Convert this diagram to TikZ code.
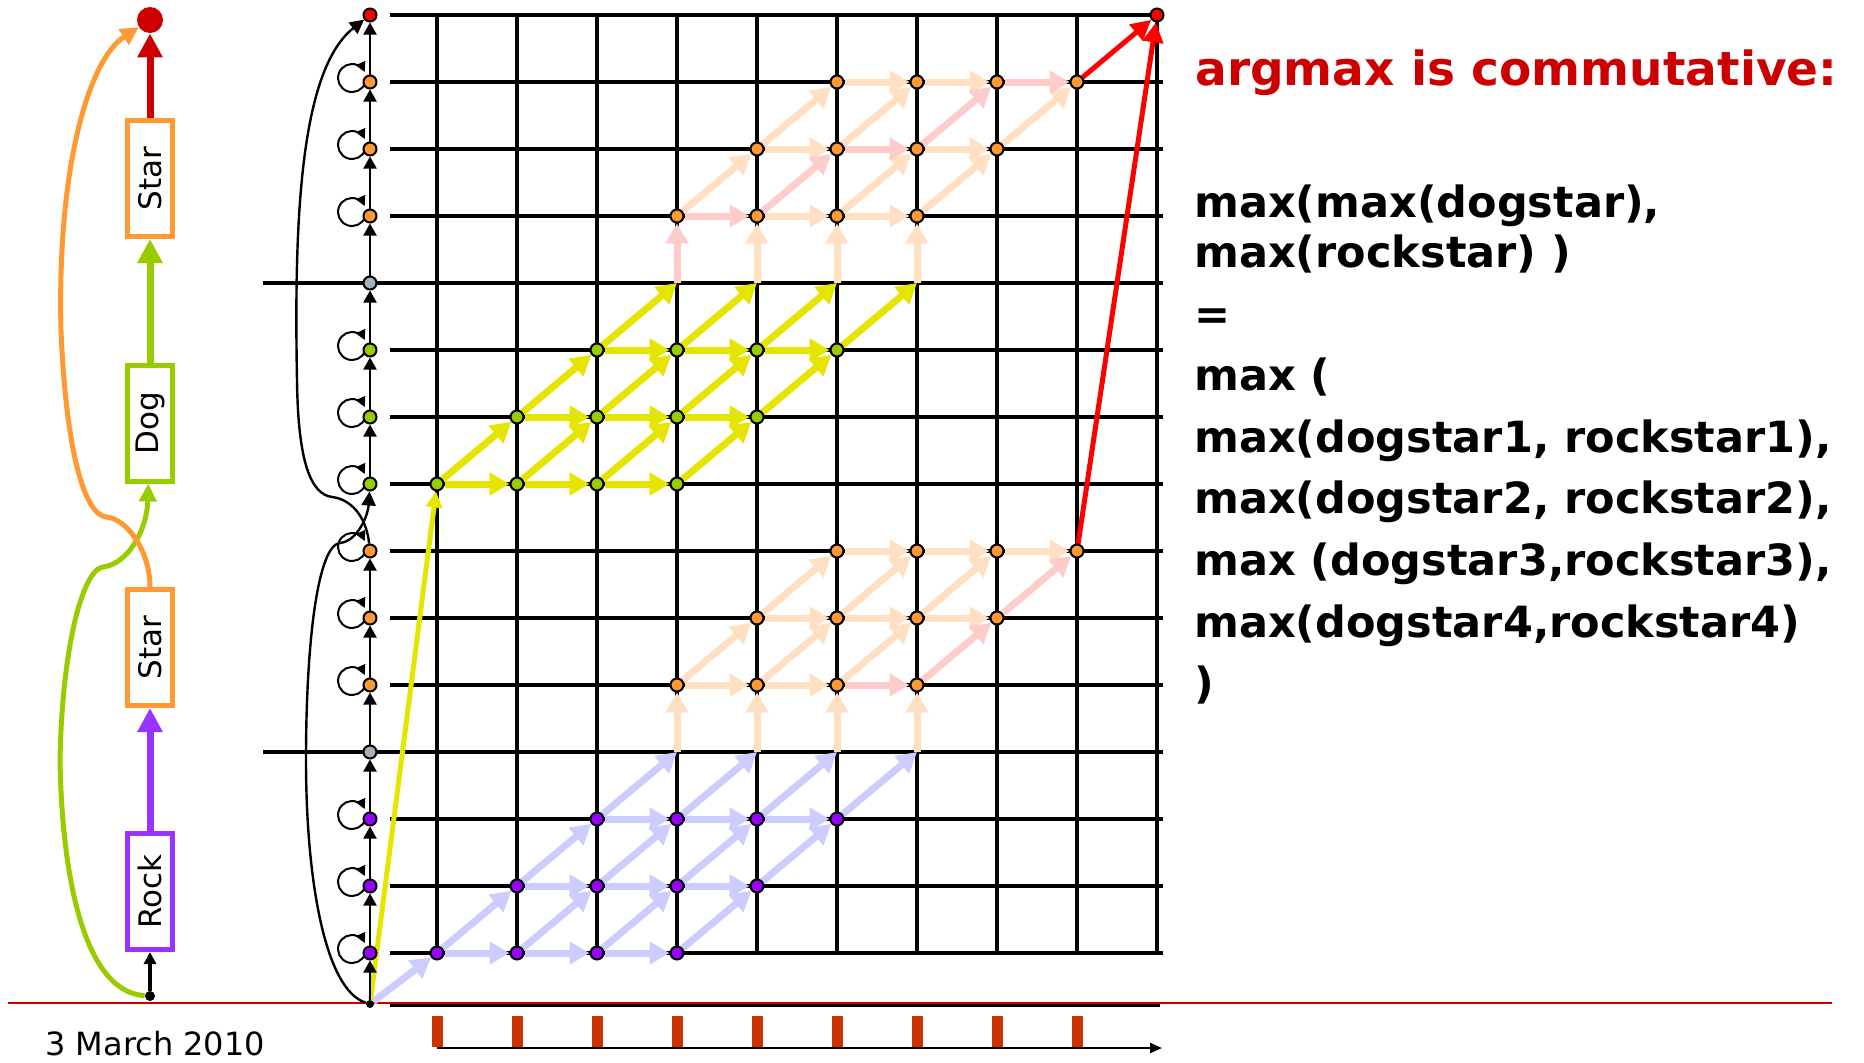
\documentclass[tikz,border=0pt]{standalone}
\usepackage{fontspec}
\setmainfont{DejaVu Sans}
\usetikzlibrary{arrows.meta}
\definecolor{purp}{HTML}{9900FF}
\definecolor{purpb}{HTML}{9933FF}
\definecolor{grn}{HTML}{99CC00}
\definecolor{org}{HTML}{FF9933}
\definecolor{gry}{HTML}{A3B1BF}
\definecolor{redn}{HTML}{FF0000}
\definecolor{dred}{HTML}{CC0000}
\definecolor{lblue}{HTML}{CCCCFF}
\definecolor{yel}{HTML}{E5E500}
\definecolor{peach}{HTML}{FFE0C2}
\definecolor{pinkc}{HTML}{FFCCCC}
\definecolor{tickc}{HTML}{CC3300}
\pgfdeclarelayer{gridlayer}
\pgfdeclarelayer{arrlayer}
\pgfsetlayers{gridlayer,arrlayer,main}
\tikzset{
  gline/.style={line width=1.6pt, draw=black},
  gnode/.style={circle, draw=black, line width=1pt, minimum size=6.5pt, inner sep=0pt},
  bigarr/.style={line width=3.5pt, -{Triangle[length=10pt,width=11pt]}},
  blarr/.style={bigarr, draw=lblue},
  yarr/.style={bigarr, draw=yel},
  pcarr/.style={bigarr, draw=peach},
  pkarr/.style={bigarr, draw=pinkc},
  ylong/.style={line width=2.5pt, draw=yel, -{Triangle[length=8pt,width=8pt]}},
  redarr/.style={line width=2.5pt, draw=redn, -{Triangle[length=10pt,width=10pt]}},
  colarr/.style={line width=1pt, -{Triangle[length=6pt,width=6.5pt]}},
  loopst/.style={line width=1pt, -{Triangle[length=5pt,width=5pt]}},
  arcst/.style={line width=1.2pt, -{Triangle[length=7pt,width=7pt]}},
  lbox/.style={draw, line width=2.5pt, fill=white, minimum width=22.5pt, minimum height=58pt, inner sep=0pt, font=\fontsize{15.5}{18}\selectfont},
  larr/.style={line width=3.5pt, -{Triangle[length=12pt,width=12pt]}},
  lbk/.style={line width=2.2pt, -{Triangle[length=6pt,width=6pt]}},
  body/.style={anchor=base west, inner sep=0pt, font=\bfseries\fontsize{21.5}{25}\selectfont},
}
\begin{document}
\begin{tikzpicture}[x=0.5pt,y=-0.5pt]
\useasboundingbox (0,0) rectangle (1864,1062);

% ---------- column nodes ----------
\foreach \j/\c in {1/purp,2/purp,3/purp,4/gry,5/org,6/org,7/org,8/grn,9/grn,10/grn,11/gry,12/org,13/org,14/org,15/redn}{
  \node[gnode, fill=\c] (c-\j) at (370,{1020-67*\j}) {};
}
\node[circle, fill=black, minimum size=4pt, inner sep=0pt] (c-0) at (370,1004) {};
\node[gnode, fill=redn] (fin) at (1157,15) {};

% ---------- grid nodes ----------
\foreach \k in {0,1,2}{
  \foreach \d in {0,1,2,3}{
    \pgfmathtruncatemacro\ia{1+\k+\d}
    \pgfmathtruncatemacro\ib{4+\k+\d}
    \pgfmathtruncatemacro\ja{1+\k}
    \pgfmathtruncatemacro\jb{8+\k}
    \pgfmathtruncatemacro\jc{5+\k}
    \pgfmathtruncatemacro\jd{12+\k}
    \node[gnode, fill=purp] (g-\ia-\ja) at ({357+80*\ia},{1020-67*\ja}) {};
    \node[gnode, fill=grn] (g-\ia-\jb) at ({357+80*\ia},{1020-67*\jb}) {};
    \node[gnode, fill=org] (g-\ib-\jc) at ({357+80*\ib},{1020-67*\jc}) {};
    \node[gnode, fill=org] (g-\ib-\jd) at ({357+80*\ib},{1020-67*\jd}) {};
  }
}
\foreach \i in {4,...,7}{
  \coordinate (x-\i-4) at ({357+80*\i},{1020-67*4});
  \coordinate (x-\i-11) at ({357+80*\i},{1020-67*11});
}

% ---------- grid lines ----------
\begin{pgfonlayer}{gridlayer}
\foreach \i in {1,...,10}{
  \draw[gline] ({357+80*\i},15) -- ({357+80*\i},953);
}
\foreach \j in {1,2,3,5,6,7,8,9,10,12,13,14}{
  \draw[gline] (390,{1020-67*\j}) -- (1163,{1020-67*\j});
}
\draw[gline] (390,15) -- (1157,15);
\draw[gline] (263,752) -- (1163,752);
\draw[gline] (263,283) -- (1163,283);
\draw[gline] (390,1005.5) -- (1160,1005.5);
\draw[line width=1pt, draw=dred] (8,1003) -- (1832,1003);
\end{pgfonlayer}

% ---------- arrows ----------
\begin{pgfonlayer}{arrlayer}
\foreach \b/\s in {1/blarr, 8/yarr}{
  \foreach \k in {0,1,2}{
    \foreach \d in {0,1,2}{
      \pgfmathtruncatemacro\ia{1+\k+\d}
      \pgfmathtruncatemacro\ib{2+\k+\d}
      \pgfmathtruncatemacro\jj{\b+\k}
      \draw[\s] (g-\ia-\jj) -- (g-\ib-\jj);
    }
  }
  \foreach \k in {0,1}{
    \foreach \d in {0,...,3}{
      \pgfmathtruncatemacro\ia{1+\k+\d}
      \pgfmathtruncatemacro\ib{2+\k+\d}
      \pgfmathtruncatemacro\jj{\b+\k}
      \pgfmathtruncatemacro\jk{\b+\k+1}
      \draw[\s] (g-\ia-\jj) -- (g-\ib-\jk);
    }
  }
  \foreach \d in {0,...,3}{
    \pgfmathtruncatemacro\ia{3+\d}
    \pgfmathtruncatemacro\ib{4+\d}
    \pgfmathtruncatemacro\jj{\b+2}
    \pgfmathtruncatemacro\jk{\b+3}
    \draw[\s] (g-\ia-\jj) -- (x-\ib-\jk);
  }
}
\draw[blarr] (c-0) -- (g-1-1);
\draw[ylong] (c-0) -- (g-1-8);

% orange blocks, peach first
\foreach \a/\b in {x-4-4/g-4-5, x-5-4/g-5-5, x-6-4/g-6-5, x-7-4/g-7-5,
  g-4-5/g-5-5, g-5-5/g-6-5,
  g-5-6/g-6-6, g-6-6/g-7-6, g-7-6/g-8-6,
  g-6-7/g-7-7, g-7-7/g-8-7, g-8-7/g-9-7,
  g-4-5/g-5-6, g-5-5/g-6-6, g-6-5/g-7-6,
  g-5-6/g-6-7, g-6-6/g-7-7, g-7-6/g-8-7,
  x-5-11/g-5-12, x-6-11/g-6-12, x-7-11/g-7-12,
  g-5-12/g-6-12, g-6-12/g-7-12,
  g-5-13/g-6-13, g-7-13/g-8-13,
  g-6-14/g-7-14, g-7-14/g-8-14,
  g-4-12/g-5-13, g-6-12/g-7-13, g-7-12/g-8-13,
  g-5-13/g-6-14, g-6-13/g-7-14, g-8-13/g-9-14}{
  \draw[pcarr] (\a) -- (\b);
}
\foreach \a/\b in {g-6-5/g-7-5, g-7-5/g-8-6, g-8-6/g-9-7,
  x-4-11/g-4-12, g-4-12/g-5-12, g-5-12/g-6-13, g-6-13/g-7-13, g-7-13/g-8-14, g-8-14/g-9-14}{
  \draw[pkarr] (\a) -- (\b);
}
\draw[redarr] (g-9-7) -- (fin);
\draw[redarr] (g-9-14) -- (fin);

% column arrows and loops
\foreach \a/\b in {0/1,1/2,2/3,3/4,4/5,5/6,6/7,8/9,9/10,10/11,11/12,12/13,13/14,14/15}{
  \draw[colarr] (c-\a) -- (c-\b);
}
\foreach \j in {1,2,3,5,6,7,8,9,10,12,13,14}{
  \draw[loopst] ([shift={(-2.4pt,-0.4pt)}]c-\j.center) arc[start angle=-20, end angle=-335, radius=7pt];
}
\draw[arcst] (c-0) .. controls (325,990) and (306,880) .. (306,760)
  .. controls (306,640) and (318,545) .. (340,543)
  .. controls (358,541) and (368,515) .. (c-8);
\draw[arcst] (c-7) .. controls (366,515) and (350,499) .. (332,497)
  .. controls (310,494) and (298,460) .. (297,380)
  .. controls (294,220) and (300,70) .. (c-15);
\end{pgfonlayer}

% ---------- bottom ticks and axis ----------
\foreach \i in {1,...,9}{
  \fill[tickc] ({357+80*\i-5.5},1016) rectangle ({357+80*\i+5.5},1047);
}
\coordinate (ax0) at (437,1048);
\coordinate (ax1) at (1162,1048);
\draw[line width=1.1pt, -{Triangle[length=6pt,width=5pt]}] (ax0) -- (ax1);

% ---------- left panel ----------
\node[circle, fill=black, minimum size=5pt, inner sep=0pt] (ld) at (150,996) {};
\node[lbox, draw=purpb] (rock) at (150,891.5) {\rotatebox{90}{Rock}};
\node[lbox, draw=org] (star1) at (150,647.5) {\rotatebox{90}{Star}};
\node[lbox, draw=grn] (dog) at (150,423) {\rotatebox{90}{Dog}};
\node[lbox, draw=org] (star2) at (150,178.5) {\rotatebox{90}{Star}};
\node[circle, fill=dred, minimum size=13pt, inner sep=0pt] (lend) at (150,20) {};
\draw[lbk] (ld) -- (rock);
\draw[larr, draw=purpb] (rock) -- (star1);
\draw[larr, draw=grn] (dog) -- (star2);
\draw[larr, draw=dred] (star2) -- (lend);
\draw[line width=2.5pt, draw=grn, -{Triangle[length=9pt,width=8.5pt]}] (ld)
  .. controls (85,992) and (62,880) .. (60,760)
  .. controls (62,650) and (82,570) .. (103,567)
  .. controls (128,564) and (147,530) .. (dog);
\draw[line width=2.5pt, draw=org, -{Triangle[length=9pt,width=9pt]}] (star1.north)
  .. controls (150,550) and (126,518) .. (106,517)
  .. controls (84,514) and (66,450) .. (61,330)
  .. controls (57,170) and (88,60) .. (lend);

% ---------- texts ----------
\node[anchor=base west, inner sep=0pt, font=\fontsize{16}{19}\selectfont] (date) at (45,1055) {3 March 2010};
\node[anchor=base west, inner sep=0pt, text=dred, font=\bfseries\fontsize{23.5}{28}\selectfont] (title) at (1195,85) {argmax is commutative:};
\node[body] (t1) at (1194,217) {max(max(dogstar),};
\node[body] (t2) at (1194,267) {max(rockstar) )};
\node[body] (t3) at (1194,329) {=};
\node[body] (t4) at (1194,390) {max (};
\node[body] (t5) at (1194,452) {max(dogstar1, rockstar1),};
\node[body] (t6) at (1194,513) {max(dogstar2, rockstar2),};
\node[body] (t7) at (1194,575) {max (dogstar3,rockstar3),};
\node[body] (t8) at (1194,637) {max(dogstar4,rockstar4)};
\node[body] (t9) at (1194,698) {)};
\end{tikzpicture}
\end{document}
